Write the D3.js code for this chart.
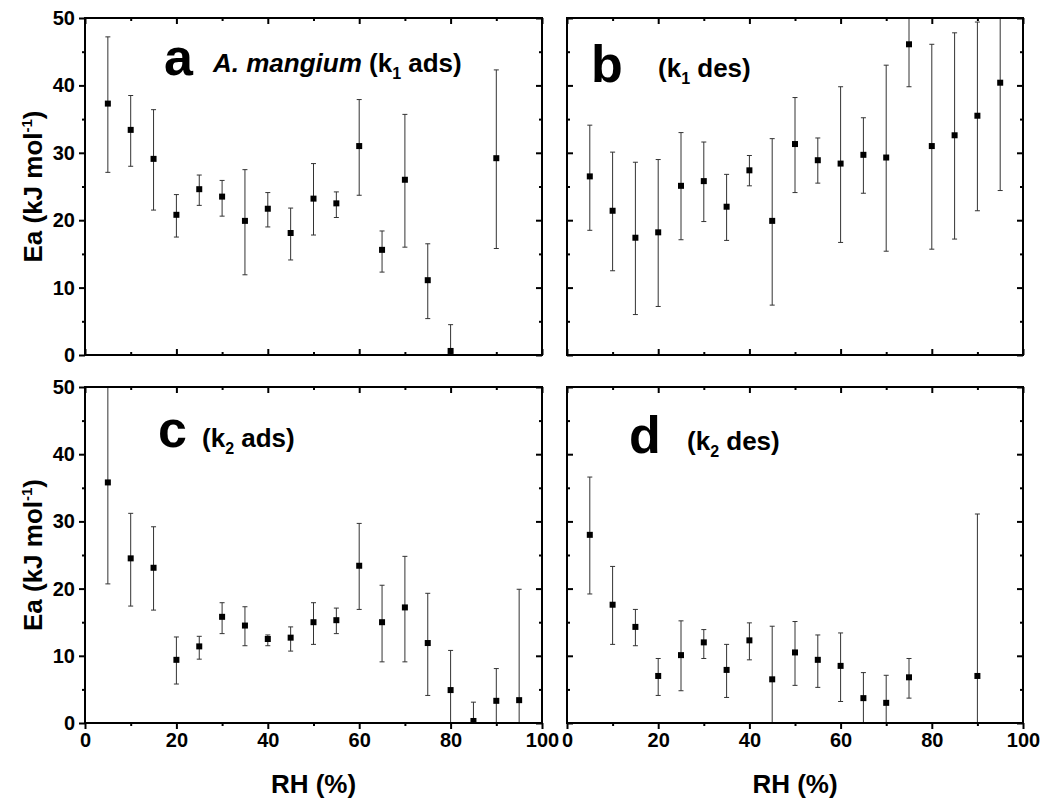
<!DOCTYPE html>
<html>
<head>
<meta charset="UTF-8">
<style>
body { margin: 0; background: #fff; }
svg { display: block; font-family: "Liberation Sans", Arial, sans-serif; font-weight: bold; }
.tick text { font-size: 20px; font-weight: bold; fill: #000; font-family: "Liberation Sans", Arial, sans-serif; }
.tick line { stroke: #000; stroke-width: 2px; }
.err { stroke: #333; stroke-width: 1px; fill: none; }
</style>
</head>
<body>
<svg id="chart" width="1050" height="803"></svg>

<script src="https://d3js.org/d3.v7.min.js"></script>
<script>

// a : k1 adsorption (A. mangium)
var rhA = [5, 10, 15, 20, 25, 30, 35, 40, 45, 50, 55, 60, 65, 70, 75, 80, 90];
var eaA = [37.3, 33.4, 29.1, 20.8, 24.6, 23.5, 19.9, 21.7, 18.1, 23.2, 22.5, 31.0, 15.6, 26.0, 11.1, 0.6, 29.2];
var hiA = [47.2, 38.5, 36.4, 23.8, 26.7, 25.9, 27.5, 24.1, 21.8, 28.4, 24.2, 37.9, 18.4, 35.7, 16.5, 4.5, 42.3];
var loA = [27.1, 28.0, 21.5, 17.5, 22.2, 20.6, 11.9, 19.0, 14.1, 17.8, 20.4, 23.7, 12.3, 16.0, 5.4, -3.3, 15.8];

// b : k1 desorption
var rhB = [5, 10, 15, 20, 25, 30, 35, 40, 45, 50, 55, 60, 65, 70, 75, 80, 85, 90, 95];
var eaB = [26.5, 21.4, 17.4, 18.2, 25.1, 25.8, 22.0, 27.4, 19.9, 31.3, 28.9, 28.4, 29.7, 29.3, 46.1, 31.0, 32.6, 35.5, 40.4];
var hiB = [34.1, 30.1, 28.6, 29.0, 33.0, 31.6, 26.8, 29.6, 32.1, 38.2, 32.2, 39.8, 35.2, 43.0, 52.4, 46.1, 47.8, 49.4, 56.4];
var loB = [18.5, 12.5, 6.0, 7.2, 17.1, 19.8, 17.0, 25.1, 7.4, 24.1, 25.5, 16.7, 24.0, 15.4, 39.8, 15.7, 17.2, 21.4, 24.4];

// c : k2 adsorption
var rhC = [5, 10, 15, 20, 25, 30, 35, 40, 45, 50, 55, 60, 65, 70, 75, 80, 85, 90, 95];
var eaC = [35.8, 24.5, 23.1, 9.4, 11.4, 15.8, 14.5, 12.5, 12.7, 15.0, 15.3, 23.4, 15.0, 17.2, 11.9, 4.9, 0.3, 3.3, 3.4];
var hiC = [50.9, 31.2, 29.2, 12.8, 12.9, 17.9, 17.3, 13.1, 14.3, 17.9, 17.1, 29.7, 20.5, 24.8, 19.3, 10.8, 3.1, 8.1, 19.9];
var loC = [20.7, 17.4, 16.8, 5.8, 9.5, 13.3, 11.5, 11.5, 10.7, 11.7, 13.3, 16.9, 9.1, 9.1, 4.1, -1.0, -2.5, -1.5, -13.1];

// d : k2 desorption
var rhD = [5, 10, 15, 20, 25, 30, 35, 40, 45, 50, 55, 60, 65, 70, 75, 90];
var eaD = [28.0, 17.6, 14.3, 7.0, 10.1, 12.0, 7.9, 12.3, 6.5, 10.5, 9.4, 8.5, 3.7, 3.0, 6.8, 7.0];
var hiD = [36.6, 23.3, 16.9, 9.6, 15.2, 13.9, 11.7, 14.9, 14.4, 15.1, 13.1, 13.4, 7.5, 7.1, 9.6, 31.1];
var loD = [19.2, 11.7, 11.5, 4.1, 4.8, 9.6, 3.8, 9.4, -1.4, 5.6, 5.3, 3.2, -0.1, -1.1, 3.7, -17.1];

// axis ticks
var xMajor = [0, 20, 40, 60, 80, 100];
var xMinor = [10, 30, 50, 70, 90];
var yMajor = [0, 10, 20, 30, 40, 50];
var yMinor = [5, 15, 25, 35, 45];

var svg = d3.select("#chart");

var panels = [
  {id: "a", rh: rhA, ea: eaA, hi: hiA, lo: loA, left: 85,  right: 542,  top: 18,  bottom: 355, yLab: true,  xLab: false},
  {id: "b", rh: rhB, ea: eaB, hi: hiB, lo: loB, left: 567, right: 1023, top: 18,  bottom: 355, yLab: false, xLab: false},
  {id: "c", rh: rhC, ea: eaC, hi: hiC, lo: loC, left: 85,  right: 542,  top: 387, bottom: 723, yLab: true,  xLab: true},
  {id: "d", rh: rhD, ea: eaD, hi: hiD, lo: loD, left: 567, right: 1023, top: 387, bottom: 723, yLab: false, xLab: true}
];

panels.forEach(function(p) {
  var x = d3.scaleLinear().domain([0, 100]).range([p.left, p.right]);
  var y = d3.scaleLinear().domain([0, 50]).range([p.bottom, p.top]);
  var g = svg.append("g").attr("class", "panel-" + p.id);

  g.append("clipPath").attr("id", "clip-" + p.id)
    .append("rect")
    .attr("x", p.left).attr("y", p.top)
    .attr("width", p.right - p.left).attr("height", p.bottom - p.top);

  var pts = p.rh.map(function(r, i) {
    return {rh: r, ea: p.ea[i], hi: p.hi[i], lo: p.lo[i]};
  });

  // error bars
  var eb = g.append("g").attr("clip-path", "url(#clip-" + p.id + ")");
  eb.selectAll("path.err").data(pts).enter().append("path")
    .attr("class", "err")
    .attr("d", function(d) {
      var cx = x(d.rh), t = y(d.hi), b = y(d.lo);
      return "M" + cx + "," + t + "V" + b +
             "M" + (cx - 2.5) + "," + t + "H" + (cx + 2.5) +
             "M" + (cx - 2.5) + "," + b + "H" + (cx + 2.5);
    });

  // markers
  g.selectAll("rect.pt").data(pts).enter().append("rect")
    .attr("class", "pt")
    .attr("x", function(d) { return x(d.rh) - 3; })
    .attr("y", function(d) { return y(d.ea) - 3; })
    .attr("width", 6).attr("height", 6)
    .attr("fill", "#000");

  // axes: labelled ones tick outward, the rest inward
  function addAxis(axis, tr, vals, size, labels) {
    var a = g.append("g").attr("transform", tr)
      .call(axis.tickValues(vals).tickSize(size).tickSizeOuter(0)
        .tickPadding(4)
        .tickFormat(labels ? d3.format("d") : ""));
    a.select(".domain").remove();
    return a;
  }
  var bt = "translate(0," + p.bottom + ")";
  addAxis(d3.axisBottom(x), bt, xMajor, p.xLab ? 6 : -6, p.xLab);
  addAxis(d3.axisBottom(x), bt, xMinor, p.xLab ? 3 : -3, false);
  var tp = "translate(0," + p.top + ")";
  addAxis(d3.axisTop(x), tp, xMajor, -6, false);
  addAxis(d3.axisTop(x), tp, xMinor, -3, false);
  var lt = "translate(" + p.left + ",0)";
  addAxis(d3.axisLeft(y), lt, yMajor, p.yLab ? 6 : -6, p.yLab);
  addAxis(d3.axisLeft(y), lt, yMinor, p.yLab ? 3 : -3, false);
  var rt = "translate(" + p.right + ",0)";
  addAxis(d3.axisRight(y), rt, yMajor, -6, false);
  addAxis(d3.axisRight(y), rt, yMinor, -3, false);

  // frame
  g.append("rect")
    .attr("x", p.left).attr("y", p.top)
    .attr("width", p.right - p.left).attr("height", p.bottom - p.top)
    .attr("fill", "none").attr("stroke", "#000").attr("stroke-width", 2);

  if (p.yLab) {
    var yt = g.append("text")
      .attr("transform", "translate(42," + ((p.top + p.bottom) / 2) + ") rotate(-90)")
      .attr("text-anchor", "middle")
      .style("font-size", "26px");
    yt.append("tspan").text("Ea (kJ mol");
    yt.append("tspan").attr("dy", -10).style("font-size", "15px").text("-1");
    yt.append("tspan").attr("dy", 10).text(")");
  }
  if (p.xLab) {
    g.append("text")
      .attr("x", (p.left + p.right) / 2).attr("y", 793)
      .attr("text-anchor", "middle")
      .style("font-size", "26px")
      .text("RH (%)");
  }
});

// panel letters and captions
function caption(lx, ly, letter, tx, ty, italic, k, sub, rest) {
  svg.append("text").attr("x", lx).attr("y", ly)
    .style("font-size", "52px").text(letter);
  var t = svg.append("text").attr("x", tx).attr("y", ty).style("font-size", "26px");
  if (italic) t.append("tspan").style("font-style", "italic").text(italic + " ");
  t.append("tspan").text("(" + k);
  t.append("tspan").attr("dy", 7).style("font-size", "16px").text(sub);
  t.append("tspan").attr("dy", -7).text(" " + rest + ")");
}
caption(164, 75, "a", 213, 72, "A. mangium", "k", "1", "ads");
caption(591, 82, "b", 658, 77, null, "k", "1", "des");
caption(158, 447, "c", 202, 447, null, "k", "2", "ads");
caption(629, 453, "d", 687, 450, null, "k", "2", "des");

</script>
</body>
</html>
